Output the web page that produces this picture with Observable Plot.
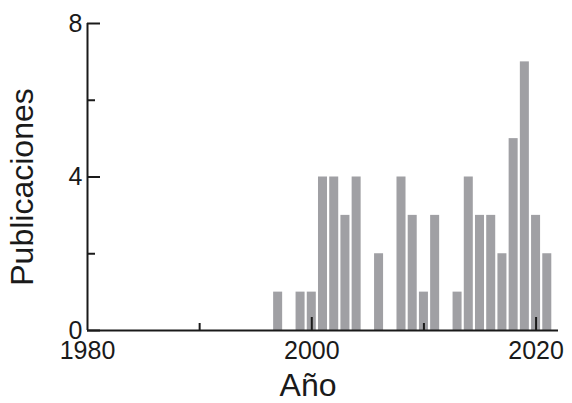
<!DOCTYPE html>
<html>
<head>
<meta charset="utf-8">
<script src="https://cdn.jsdelivr.net/npm/d3@7"></script>
<script src="https://cdn.jsdelivr.net/npm/@observablehq/plot@0.6"></script>
<style>
  html, body { margin: 0; padding: 0; background: #fff; }
  #chart svg { display: block; }
</style>
</head>
<body>
<div id="chart"></div>
<script>
const years = [1997, 1999, 2000, 2001, 2002, 2003, 2004, 2006, 2008, 2009, 2010, 2011, 2013, 2014, 2015, 2016, 2017, 2018, 2019, 2020, 2021];
const counts = [1, 1, 1, 4, 4, 3, 4, 2, 4, 3, 1, 3, 1, 4, 3, 3, 2, 5, 7, 3, 2];
const xDomain = [1980, 2022];
const yDomain = [0, 8];
const xMajorTicks = [1980, 2000, 2020];
const xMinorTicks = [1990, 2010];
const yMajorTicks = [0, 4, 8];
const yMinorTicks = [2, 6];
const xTitle = "Año";
const yTitle = "Publicaciones";

const data = years.map((y, i) => ({year: y, count: counts[i]}));
const ink = "#1a1a1a";
const font = "'Liberation Sans', Arial, sans-serif";

const chart = Plot.plot({
  width: 572,
  height: 403,
  marginLeft: 87,
  marginRight: 14,
  marginTop: 23,
  marginBottom: 73,
  style: {fontFamily: font, color: ink, background: "#fff"},
  x: {domain: xDomain},
  y: {domain: yDomain},
  marks: [
    Plot.rectY(data, {
      x1: d => d.year - 0.5,
      x2: d => d.year + 0.5,
      y1: 0,
      y2: "count",
      fill: "#a0a0a4",
      insetLeft: 1.1,
      insetRight: 1.1
    }),
    // axis lines
    Plot.ruleY([yDomain[0]], {x1: xDomain[0], x2: xDomain[1], stroke: ink, strokeWidth: 2}),
    Plot.ruleX([xDomain[0]], {y1: yDomain[0], y2: yDomain[1], stroke: ink, strokeWidth: 2}),
    // inward ticks x
    Plot.axisX({ticks: xMajorTicks.slice(1), tickSize: 13, dy: -13, strokeWidth: 2, tickFormat: () => "", label: null}),
    Plot.axisX({ticks: xMinorTicks, tickSize: 7, dy: -7, strokeWidth: 2, tickFormat: () => "", label: null}),
    // inward ticks y
    Plot.axisY({ticks: yMajorTicks, tickSize: 13, dx: 13, strokeWidth: 2, tickFormat: () => "", label: null}),
    Plot.axisY({ticks: yMinorTicks, tickSize: 8, dx: 8, strokeWidth: 2, tickFormat: () => "", label: null}),
    // tick labels
    Plot.axisX({ticks: xMajorTicks, tickSize: 0, tickPadding: 11, fontSize: 25, tickFormat: d => String(d), label: null}),
    Plot.axisY({ticks: yMajorTicks, tickSize: 0, tickPadding: 5, fontSize: 25, tickFormat: d => String(d), label: null}),
    // axis titles
    Plot.text([xTitle], {frameAnchor: "bottom", text: d => d, fontSize: 32, textAnchor: "middle", lineAnchor: "middle", dx: -15, dy: 55, fill: ink}),
    Plot.text([yTitle], {frameAnchor: "left", text: d => d, fontSize: 32, rotate: -90, textAnchor: "middle", lineAnchor: "middle", dx: -65, dy: 10, fill: ink})
  ]
});
document.getElementById("chart").appendChild(chart);
</script>
</body>
</html>
